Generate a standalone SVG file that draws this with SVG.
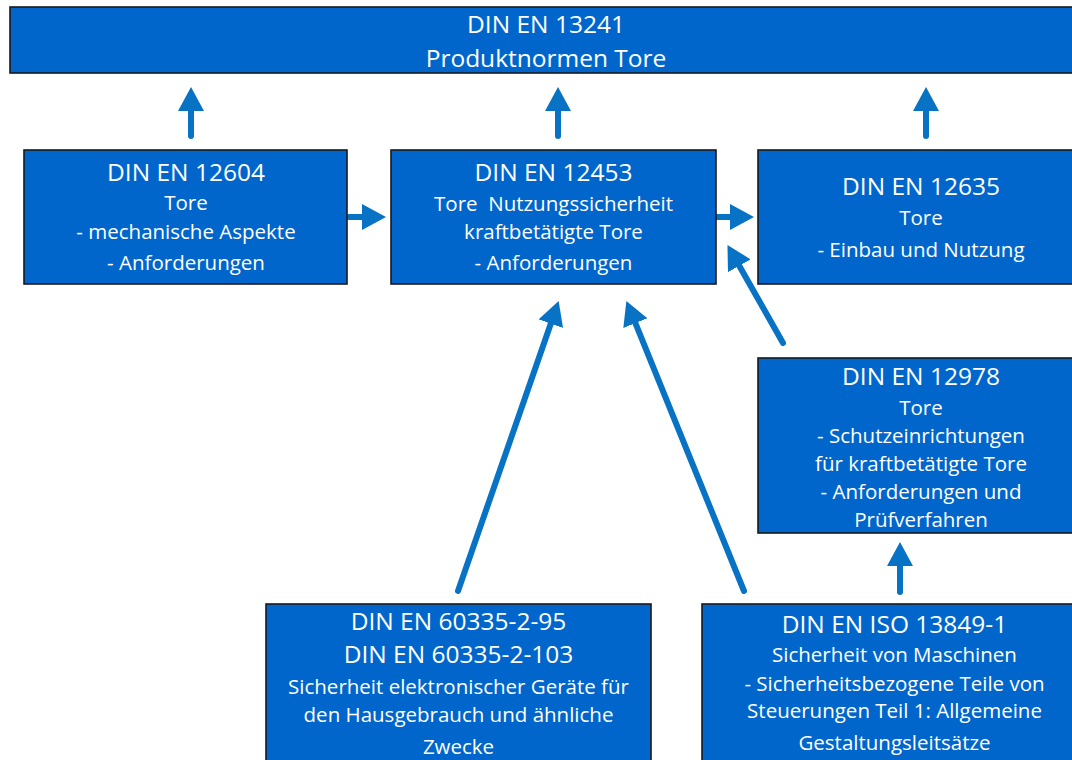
<svg xmlns="http://www.w3.org/2000/svg" width="1072" height="760" viewBox="0 0 1072 760">
<style>
.box{fill:#0066CC;stroke:#1a1a1a;stroke-width:1.6}
text{font-family:"Open Sans","Noto Sans","Liberation Sans",sans-serif;fill:#ffffff;text-anchor:middle}
.t{font-size:24.5px}
.b{font-size:20.5px}
.arr{stroke:#0872C4;stroke-width:6;stroke-linecap:round;fill:none;marker-end:url(#head)}
</style>
<defs>
<marker id="head" markerUnits="userSpaceOnUse" viewBox="0 0 24 26" refX="1" refY="13" markerWidth="24" markerHeight="26" orient="auto">
<path d="M0,0 L24,13 L0,26 Z" fill="#0872C4"/>
</marker>
</defs>
<rect width="1072" height="760" fill="#ffffff"/>
<g id="connectors">
<line class="arr" x1="191" y1="136" x2="191" y2="110"/>
<line class="arr" x1="558" y1="136" x2="558" y2="110"/>
<line class="arr" x1="926" y1="136" x2="926" y2="110"/>
<line class="arr" x1="349" y1="217" x2="363" y2="217"/>
<line class="arr" x1="716" y1="217" x2="731" y2="217"/>
<line class="arr" x1="783" y1="343" x2="738.8" y2="264.9"/>
<line class="arr" x1="458" y1="591" x2="551.1" y2="322.7"/>
<line class="arr" x1="744" y1="591" x2="635" y2="322.2"/>
<line class="arr" x1="900" y1="592" x2="900" y2="565"/>
</g>
<g id="n13241">
<rect class="box" x="10" y="7" width="1072" height="66"/>
<text class="t" x="546" y="33">DIN EN 13241</text>
<text class="t" x="546" y="67">Produktnormen Tore</text>
</g>
<g id="n12604">
<rect class="box" x="24" y="150" width="323" height="134"/>
<text class="t" x="186" y="181">DIN EN 12604</text>
<text class="b" x="186" y="210">Tore</text>
<text class="b" x="186" y="239">- mechanische Aspekte</text>
<text class="b" x="186" y="270">- Anforderungen</text>
</g>
<g id="n12453">
<rect class="box" x="391" y="150" width="325" height="134"/>
<text class="t" x="553.5" y="181">DIN EN 12453</text>
<text class="b" x="553.5" y="211" style="white-space:pre">Tore  Nutzungssicherheit</text>
<text class="b" x="553.5" y="239">kraftbetätigte Tore</text>
<text class="b" x="553.5" y="270">- Anforderungen</text>
</g>
<g id="n12635">
<rect class="box" x="758" y="150" width="326" height="134"/>
<text class="t" x="921" y="195">DIN EN 12635</text>
<text class="b" x="921" y="225">Tore</text>
<text class="b" x="921" y="257">- Einbau und Nutzung</text>
</g>
<g id="n12978">
<rect class="box" x="758" y="358" width="326" height="175"/>
<text class="t" x="921" y="385">DIN EN 12978</text>
<text class="b" x="921" y="415">Tore</text>
<text class="b" x="921" y="443">- Schutzeinrichtungen</text>
<text class="b" x="921" y="471">für kraftbetätigte Tore</text>
<text class="b" x="921" y="499">- Anforderungen und</text>
<text class="b" x="921" y="527">Prüfverfahren</text>
</g>
<g id="n60335">
<rect class="box" x="266" y="604" width="385" height="170"/>
<text class="t" x="458.5" y="630">DIN EN 60335-2-95</text>
<text class="t" x="458.5" y="663">DIN EN 60335-2-103</text>
<text class="b" x="458.5" y="694">Sicherheit elektronischer Geräte für</text>
<text class="b" x="458.5" y="722">den Hausgebrauch und ähnliche</text>
<text class="b" x="458.5" y="754">Zwecke</text>
</g>
<g id="n13849">
<rect class="box" x="702" y="604" width="385" height="170"/>
<text class="t" x="894.5" y="633">DIN EN ISO 13849-1</text>
<text class="b" x="894.5" y="662">Sicherheit von Maschinen</text>
<text class="b" x="894.5" y="691">- Sicherheitsbezogene Teile von</text>
<text class="b" x="894.5" y="718">Steuerungen Teil 1: Allgemeine</text>
<text class="b" x="894.5" y="750">Gestaltungsleitsätze</text>
</g>
</svg>
